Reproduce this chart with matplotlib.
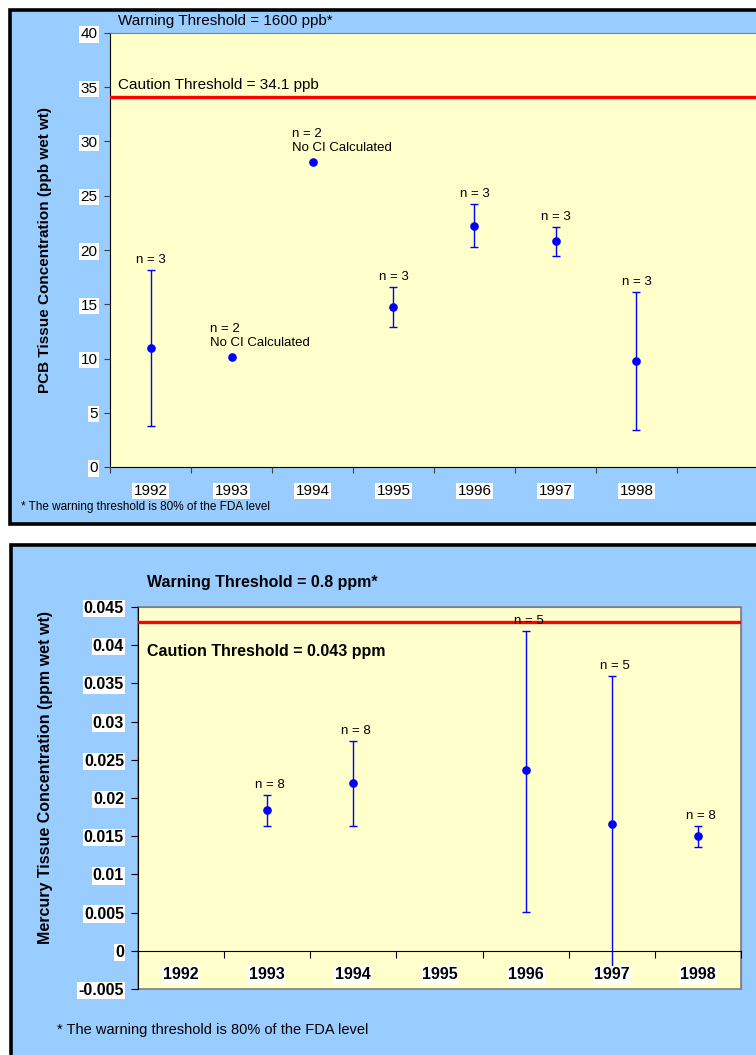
import matplotlib.pyplot as plt
from matplotlib.patches import Rectangle

plt.rcParams['font.family'] = ['Liberation Sans', 'DejaVu Sans']

W, H = 756, 1055
DPI = 100

BLUE_BG = '#99CCFF'
YELLOW = '#FFFFCC'
MARK = '#0000FF'

years = ['1992', '1993', '1994', '1995', '1996', '1997', '1998']

# PCB in fish tissue, ppb wet wt (None = no confidence interval)
pcb_mean = [11.0, 10.15, 28.1, 14.75, 22.25, 20.8, 9.8]
pcb_low = [3.8, None, None, 12.9, 20.25, 19.45, 3.4]
pcb_high = [18.15, None, None, 16.6, 24.2, 22.1, 16.1]
pcb_n = [3, 2, 2, 3, 3, 3, 3]
pcb_caution = 34.1
pcb_yticks = [0, 5, 10, 15, 20, 25, 30, 35, 40]

# Mercury in fish tissue, ppm wet wt
hg_years = ['1993', '1994', '1996', '1997', '1998']
hg_mean = [0.0184, 0.0220, 0.0236, 0.0166, 0.0150]
hg_low = [0.0163, 0.0163, 0.0051, -0.003, 0.0136]
hg_high = [0.0204, 0.0275, 0.0419, 0.0360, 0.0164]
hg_n = [8, 8, 5, 5, 8]
hg_caution = 0.043
hg_yticks = [-0.005, 0, 0.005, 0.01, 0.015, 0.02, 0.025, 0.03, 0.035, 0.04, 0.045]
hg_yticklabels = ['-0.005', '0', '0.005', '0.01', '0.015', '0.02', '0.025',
                  '0.03', '0.035', '0.04', '0.045']


def px_rect(left, top, right, bottom):
    return [left / W, 1 - bottom / H, (right - left) / W, (bottom - top) / H]


def fx(x):
    return x / W


def fy(y):
    return 1 - y / H


def white_boxes(labels):
    for lbl in labels:
        lbl.set_bbox(dict(facecolor='white', edgecolor='none', pad=0.8))


fig = plt.figure(figsize=(W / DPI, H / DPI), dpi=DPI)
fig.patch.set_facecolor('white')

# panel frames
for l, t, r, b in [(10, 10, 790, 524), (11, 545, 790, 1090)]:
    fig.add_artist(Rectangle((fx(l), fy(b)), (r - l) / W, (b - t) / H,
                             transform=fig.transFigure, facecolor=BLUE_BG,
                             edgecolor='black', linewidth=2.6, zorder=0))

# ---------- PCB panel ----------
ax1 = fig.add_axes(px_rect(110, 33, 758, 467))
ax1.set_facecolor(YELLOW)
ax1.set_xlim(-0.5, 7.5)
ax1.set_ylim(0, 40)
ax1.set_axisbelow(False)
ax1.xaxis.set_zorder(2.5)

ax1.spines['right'].set_visible(False)
ax1.spines['top'].set_color('#808080')
ax1.spines['left'].set_color('black')
ax1.spines['bottom'].set_color('black')

ax1.set_xticks([i - 0.5 for i in range(9)])
ax1.set_xticklabels([])
ax1.set_xticks(range(len(years)), minor=True)
ax1.set_xticklabels(years, minor=True, fontsize=11)
ax1.tick_params(axis='x', which='major', direction='out', length=4, color='#404040')
ax1.tick_params(axis='x', which='minor', length=0, pad=12)
white_boxes(ax1.get_xticklabels(minor=True))

ax1.set_yticks(pcb_yticks)
ax1.set_yticklabels([str(v) for v in pcb_yticks], fontsize=11)
ax1.tick_params(axis='y', direction='out', length=4, color='#404040', pad=5)
white_boxes(ax1.get_yticklabels())

ax1.set_ylabel('PCB Tissue Concentration (ppb wet wt)', fontsize=11, fontweight='bold')
ax1.yaxis.set_label_coords(-0.089, 0.5)

ax1.axhline(pcb_caution, color='red', linewidth=2.4, zorder=3)
ax1.annotate(f'Caution Threshold = {pcb_caution} ppb', (0, pcb_caution),
             xycoords=('axes fraction', 'data'), xytext=(8, 5),
             textcoords='offset pixels', fontsize=11, va='bottom')

for i, (m, lo, hi, n) in enumerate(zip(pcb_mean, pcb_low, pcb_high, pcb_n)):
    if lo is None:
        ax1.plot(i, m, 'o', color=MARK, markersize=5.2, zorder=4)
        ax1.annotate(f'n = {n}\nNo CI Calculated', (i, m), xytext=(-21, 8),
                     textcoords='offset pixels', ha='left', va='bottom',
                     fontsize=9.5, linespacing=1.25)
    else:
        ax1.errorbar(i, m, yerr=[[m - lo], [hi - m]], fmt='o', color=MARK,
                     markersize=5.2, elinewidth=1, capsize=3, capthick=1, zorder=4)
        ax1.annotate(f'n = {n}', (i, hi), xytext=(0, 7), textcoords='offset pixels',
                     ha='center', va='baseline', fontsize=9.5)

fig.text(fx(118), fy(21), 'Warning Threshold = 1600 ppb*', fontsize=11, va='center')
fig.text(fx(21), fy(507), '* The warning threshold is 80% of the FDA level',
         fontsize=8.5, va='center')

# ---------- Mercury panel ----------
ax2 = fig.add_axes(px_rect(138, 607, 741, 989))
ax2.set_facecolor(YELLOW)
ax2.set_xlim(-0.5, len(years) - 0.5)
ax2.set_ylim(-0.005, 0.045)
ax2.set_axisbelow(False)
ax2.xaxis.set_zorder(2.5)

for side in ['top', 'right']:
    ax2.spines[side].set_color('#808080')
ax2.spines['left'].set_color('black')
ax2.spines['bottom'].set_position(('data', 0))
ax2.spines['bottom'].set_color('black')
ax2.add_patch(Rectangle((0, 0), 1, 1, transform=ax2.transAxes, fill=False,
                        edgecolor='#808080', linewidth=1.2, clip_on=False, zorder=1))

ax2.set_xticks([i - 0.5 for i in range(len(years) + 1)])
ax2.set_xticklabels([])
ax2.set_xticks(range(len(years)), minor=True)
ax2.set_xticklabels(years, minor=True, fontsize=11.5, fontweight='bold')
ax2.tick_params(axis='x', which='major', direction='out', length=5, color='black')
ax2.tick_params(axis='x', which='minor', length=0, pad=12)
white_boxes(ax2.get_xticklabels(minor=True))

ax2.set_yticks(hg_yticks)
ax2.set_yticklabels(hg_yticklabels, fontsize=11.5, fontweight='bold')
ax2.tick_params(axis='y', direction='out', length=5, color='black', pad=5)
white_boxes(ax2.get_yticklabels())

ax2.set_ylabel('Mercury Tissue Concentration (ppm wet wt)', fontsize=11.5,
               fontweight='bold')
ax2.yaxis.set_label_coords(-0.141, 0.554)

ax2.axhline(hg_caution, color='red', linewidth=2.4, zorder=3)
ax2.annotate(f'Caution Threshold = {hg_caution} ppm', (0, hg_caution),
             xycoords=('axes fraction', 'data'), xytext=(9, -22),
             textcoords='offset pixels', fontsize=11.5, fontweight='bold', va='top')

for yr, m, lo, hi, n in zip(hg_years, hg_mean, hg_low, hg_high, hg_n):
    i = years.index(yr)
    ax2.errorbar(i, m, yerr=[[m - lo], [hi - m]], fmt='o', color=MARK,
                 markersize=5.2, elinewidth=1, capsize=3, capthick=1, zorder=2)
    ax2.annotate(f'n = {n}', (i, hi), xytext=(3, 7), textcoords='offset pixels',
                 ha='center', va='baseline', fontsize=9.5, zorder=4)

fig.text(fx(147), fy(583), 'Warning Threshold = 0.8 ppm*', fontsize=11.5,
         fontweight='bold', va='center')
fig.text(fx(57), fy(1030), '* The warning threshold is 80% of the FDA level',
         fontsize=10.5, va='center')

fig.savefig('out.png', dpi=DPI)
